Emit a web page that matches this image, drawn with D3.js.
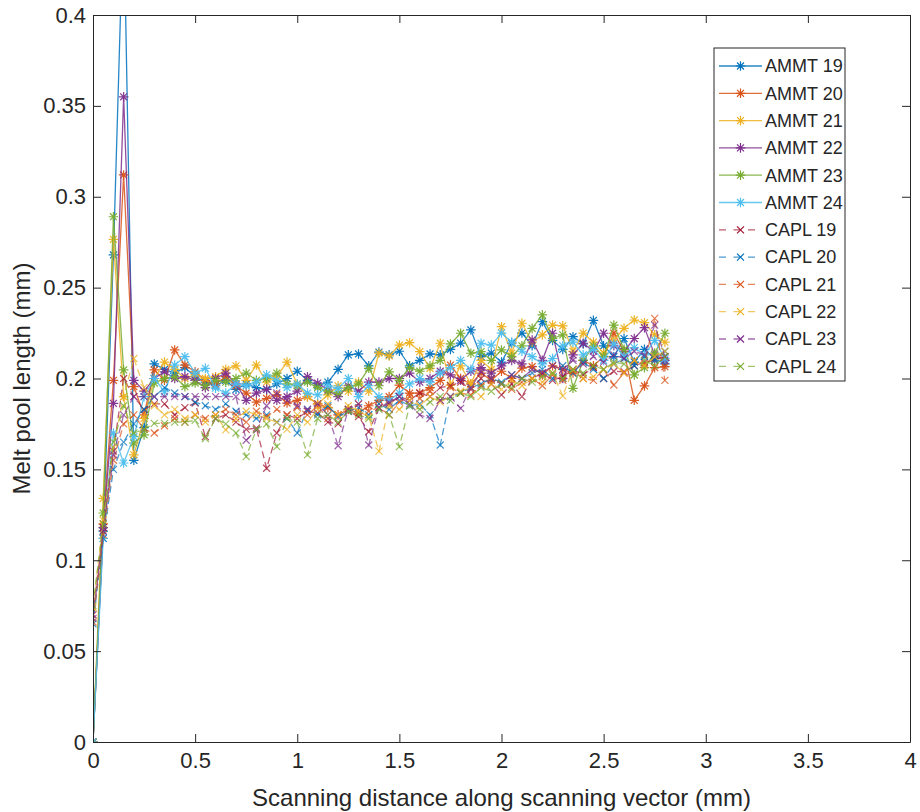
<!DOCTYPE html>
<html>
<head>
<meta charset="utf-8">
<script src="https://cdn.jsdelivr.net/npm/d3@7/dist/d3.min.js"></script>
<style>
  body { margin: 0; background: #fff; }
  text { font-family: "Liberation Sans", Arial, sans-serif; fill: #262626; }
</style>
</head>
<body>
<div id="chart"></div>
<script>
// scanning positions (mm)
const xValues = [0, 0.05, 0.1, 0.15, 0.2, 0.25, 0.3, 0.35, 0.4, 0.45, 0.5, 0.55, 0.6, 0.65, 0.7, 0.75, 0.8, 0.85, 0.9, 0.95,
  1.0, 1.05, 1.1, 1.15, 1.2, 1.25, 1.3, 1.35, 1.4, 1.45, 1.5, 1.55, 1.6, 1.65, 1.7, 1.75, 1.8, 1.85, 1.9, 1.95,
  2.0, 2.05, 2.1, 2.15, 2.2, 2.25, 2.3, 2.35, 2.4, 2.45, 2.5, 2.55, 2.6, 2.65, 2.7, 2.75, 2.8];

const ammt19 = [0, 0.116, 0.268, 0.46, 0.155, 0.173, 0.208, 0.205, 0.203, 0.206, 0.201, 0.198, 0.196, 0.199, 0.194, 0.197, 0.195, 0.194, 0.197, 0.2,
  0.204, 0.199, 0.196, 0.198, 0.205, 0.213, 0.2135, 0.207, 0.2145, 0.213, 0.215, 0.207, 0.21, 0.2135, 0.213, 0.216, 0.2195, 0.2267, 0.212, 0.214,
  0.209, 0.2195, 0.225, 0.218, 0.2313, 0.221, 0.216, 0.223, 0.219, 0.232, 0.218, 0.212, 0.222, 0.209, 0.216, 0.211, 0.208];
const ammt20 = [0, 0.12, 0.199, 0.312, 0.1955, 0.18, 0.2047, 0.199, 0.2157, 0.2074, 0.2037, 0.199, 0.197, 0.201, 0.196, 0.192, 0.187, 0.189, 0.191, 0.1865,
  0.188, 0.19, 0.186, 0.184, 0.18, 0.183, 0.181, 0.185, 0.188, 0.19, 0.1964, 0.192, 0.192, 0.195, 0.199, 0.2074, 0.2, 0.197, 0.203, 0.199,
  0.204, 0.2, 0.2057, 0.2065, 0.202, 0.207, 0.205, 0.203, 0.21, 0.207, 0.212, 0.2249, 0.215, 0.188, 0.1959, 0.206, 0.2065];
const ammt21 = [0, 0.134, 0.2766, 0.19, 0.158, 0.178, 0.2, 0.209, 0.205, 0.2, 0.202, 0.2, 0.201, 0.205, 0.207, 0.199, 0.2074, 0.198, 0.201, 0.209,
  0.197, 0.19, 0.186, 0.191, 0.196, 0.193, 0.198, 0.193, 0.214, 0.2124, 0.2184, 0.2197, 0.2148, 0.2056, 0.2194, 0.1964, 0.207, 0.197, 0.21, 0.205,
  0.2285, 0.214, 0.2304, 0.22, 0.224, 0.2294, 0.229, 0.215, 0.225, 0.22, 0.214, 0.221, 0.2276, 0.2322, 0.2307, 0.224, 0.22];
const ammt22 = [0, 0.118, 0.1863, 0.355, 0.199, 0.193, 0.2, 0.2037, 0.2, 0.201, 0.199, 0.195, 0.2, 0.203, 0.197, 0.188, 0.192, 0.194, 0.188, 0.19,
  0.193, 0.201, 0.1975, 0.1937, 0.19, 0.196, 0.193, 0.198, 0.198, 0.2, 0.2, 0.203, 0.198, 0.2, 0.204, 0.202, 0.199, 0.204, 0.206, 0.203,
  0.207, 0.21, 0.208, 0.2212, 0.21, 0.2249, 0.2, 0.213, 0.2194, 0.215, 0.2249, 0.218, 0.215, 0.222, 0.228, 0.213, 0.21];
const ammt23 = [0, 0.126, 0.289, 0.2047, 0.1645, 0.169, 0.1975, 0.2, 0.201, 0.1955, 0.1975, 0.196, 0.199, 0.198, 0.2, 0.203, 0.199, 0.2, 0.203, 0.197,
  0.196, 0.198, 0.195, 0.193, 0.192, 0.195, 0.197, 0.2056, 0.196, 0.2037, 0.199, 0.206, 0.204, 0.207, 0.21, 0.219, 0.2249, 0.2139, 0.2148, 0.21,
  0.2157, 0.212, 0.218, 0.2276, 0.235, 0.222, 0.224, 0.1946, 0.21, 0.218, 0.212, 0.2294, 0.216, 0.202, 0.206, 0.214, 0.2249];
const ammt24 = [0, 0.112, 0.17, 0.1535, 0.168, 0.19, 0.2, 0.1927, 0.2074, 0.212, 0.203, 0.2056, 0.1947, 0.192, 0.197, 0.196, 0.198, 0.202, 0.199, 0.195,
  0.197, 0.192, 0.191, 0.196, 0.1946, 0.2, 0.19, 0.196, 0.19, 0.188, 0.192, 0.197, 0.2, 0.198, 0.203, 0.206, 0.21, 0.205, 0.2194, 0.2184,
  0.225, 0.22, 0.215, 0.212, 0.208, 0.211, 0.218, 0.22, 0.213, 0.216, 0.21, 0.219, 0.212, 0.217, 0.213, 0.221, 0.211];
const capl19 = [0.07, 0.118, 0.16, 0.2, 0.19, 0.183, 0.186, 0.186, 0.18, 0.184, 0.1865, 0.168, 0.178, 0.18, 0.176, 0.172, 0.1727, 0.1506, 0.17, 0.18,
  0.178, 0.182, 0.181, 0.176, 0.175, 0.182, 0.179, 0.1707, 0.184, 0.186, 0.19, 0.188, 0.192, 0.19, 0.195, 0.196, 0.198, 0.194, 0.2, 0.197,
  0.191, 0.197, 0.19, 0.2, 0.203, 0.199, 0.201, 0.205, 0.202, 0.206, 0.2, 0.204, 0.2037, 0.207, 0.209, 0.21, 0.212];
const capl20 = [0.065, 0.112, 0.15, 0.165, 0.175, 0.183, 0.19, 0.195, 0.192, 0.19, 0.187, 0.185, 0.183, 0.186, 0.182, 0.18, 0.178, 0.18, 0.176, 0.178,
  0.17, 0.183, 0.18, 0.185, 0.179, 0.182, 0.184, 0.18, 0.186, 0.183, 0.188, 0.185, 0.186, 0.18, 0.1634, 0.19, 0.192, 0.195, 0.197, 0.2,
  0.198, 0.202, 0.2, 0.203, 0.205, 0.2, 0.207, 0.203, 0.209, 0.205, 0.2, 0.208, 0.211, 0.207, 0.212, 0.21, 0.215];
const capl21 = [0.066, 0.114, 0.155, 0.175, 0.18, 0.172, 0.17, 0.174, 0.178, 0.176, 0.18, 0.178, 0.18, 0.183, 0.18, 0.176, 0.182, 0.179, 0.183, 0.18,
  0.184, 0.18, 0.185, 0.178, 0.18, 0.183, 0.186, 0.182, 0.184, 0.18, 0.187, 0.19, 0.189, 0.193, 0.188, 0.195, 0.192, 0.191, 0.196, 0.2,
  0.197, 0.194, 0.198, 0.2, 0.196, 0.202, 0.199, 0.204, 0.2, 0.199, 0.205, 0.1964, 0.203, 0.21, 0.208, 0.2331, 0.199];
const capl22 = [0.074, 0.122, 0.162, 0.19, 0.211, 0.195, 0.185, 0.18, 0.183, 0.178, 0.18, 0.176, 0.18, 0.1717, 0.178, 0.182, 0.18, 0.178, 0.176, 0.172,
  0.18, 0.176, 0.183, 0.186, 0.18, 0.185, 0.182, 0.179, 0.16, 0.185, 0.183, 0.188, 0.185, 0.19, 0.187, 0.19, 0.193, 0.195, 0.19, 0.197,
  0.194, 0.199, 0.196, 0.2, 0.198, 0.203, 0.1904, 0.205, 0.2, 0.201, 0.205, 0.208, 0.203, 0.21, 0.207, 0.212, 0.215];
const capl23 = [0.068, 0.116, 0.158, 0.18, 0.19, 0.19, 0.19, 0.19, 0.19, 0.19, 0.19, 0.19, 0.19, 0.19, 0.19, 0.166, 0.1717, 0.185, 0.192, 0.188,
  0.185, 0.183, 0.186, 0.18, 0.163, 0.183, 0.186, 0.1634, 0.184, 0.187, 0.19, 0.186, 0.18, 0.178, 0.188, 0.19, 0.1836, 0.195, 0.2037, 0.2,
  0.197, 0.202, 0.2, 0.205, 0.203, 0.207, 0.205, 0.21, 0.208, 0.212, 0.209, 0.213, 0.211, 0.215, 0.213, 0.2294, 0.212];
const capl24 = [0.075, 0.12, 0.165, 0.185, 0.17, 0.172, 0.1753, 0.1753, 0.176, 0.176, 0.177, 0.167, 0.178, 0.175, 0.17, 0.157, 0.172, 0.175, 0.1625, 0.178,
  0.176, 0.158, 0.178, 0.18, 0.176, 0.182, 0.18, 0.178, 0.183, 0.18, 0.1625, 0.185, 0.183, 0.187, 0.19, 0.188, 0.192, 0.19, 0.195, 0.193,
  0.197, 0.195, 0.2, 0.198, 0.201, 0.203, 0.2, 0.205, 0.203, 0.207, 0.205, 0.209, 0.208, 0.202, 0.21, 0.207, 0.212];

const seriesNames = ['AMMT 19', 'AMMT 20', 'AMMT 21', 'AMMT 22', 'AMMT 23', 'AMMT 24',
  'CAPL 19', 'CAPL 20', 'CAPL 21', 'CAPL 22', 'CAPL 23', 'CAPL 24'];
const seriesValues = [ammt19, ammt20, ammt21, ammt22, ammt23, ammt24, capl19, capl20, capl21, capl22, capl23, capl24];

const xTickValues = [0, 0.5, 1, 1.5, 2, 2.5, 3, 3.5, 4];
const xTickLabels = ['0', '0.5', '1', '1.5', '2', '2.5', '3', '3.5', '4'];
const yTickValues = [0, 0.05, 0.1, 0.15, 0.2, 0.25, 0.3, 0.35, 0.4];
const yTickLabels = ['0', '0.05', '0.1', '0.15', '0.2', '0.25', '0.3', '0.35', '0.4'];

// matlab default colour order
const colors = ['#0072BD', '#D95319', '#EDB120', '#7E2F8E', '#77AC30', '#4DBEEE',
  '#A2142F', '#0072BD', '#D95319', '#EDB120', '#7E2F8E', '#77AC30'];

const W = 920, H = 812;
const margin = { top: 15, left: 93, right: 10, bottom: 70 };
const width = W - margin.left - margin.right;
const height = H - margin.top - margin.bottom;

const svg = d3.select('#chart').append('svg')
  .attr('width', W).attr('height', H);

const chart = svg.append('g')
  .attr('transform', `translate(${margin.left},${margin.top})`);

const xScale = d3.scaleLinear().domain([0, 4]).range([0, width]);
const yScale = d3.scaleLinear().domain([0, 0.4]).range([height, 0]);

svg.append('defs').append('clipPath').attr('id', 'plotclip')
  .append('rect').attr('x', 0).attr('y', 0).attr('width', width).attr('height', height);

// markers
const star = r => `M${-r},0L${r},0M0,${-r}L0,${r}M${-r * 0.72},${-r * 0.72}L${r * 0.72},${r * 0.72}M${-r * 0.72},${r * 0.72}L${r * 0.72},${-r * 0.72}`;
const cross = r => `M${-r},${-r}L${r},${r}M${-r},${r}L${r},${-r}`;

const line = d3.line().x(d => xScale(d[0])).y(d => yScale(d[1]));

const plotArea = chart.append('g').attr('clip-path', 'url(#plotclip)');

seriesValues.forEach((vals, i) => {
  const pts = vals.map((v, j) => [xValues[j], v]);
  const isCapl = i >= 6;
  const g = plotArea.append('g').classed('series', true);
  g.append('path')
    .datum(pts)
    .attr('d', line)
    .attr('fill', 'none')
    .attr('stroke', colors[i])
    .attr('stroke-width', 1.3)
    .attr('stroke-opacity', isCapl ? 0.7 : 0.85)
    .attr('stroke-dasharray', isCapl ? '7,4' : null);
  g.selectAll('.mk')
    .data(pts)
    .enter()
    .append('path')
    .classed('mk', true)
    .attr('transform', d => `translate(${xScale(d[0])},${yScale(d[1])})`)
    .attr('d', isCapl ? cross(3.5) : star(4.8))
    .attr('fill', 'none')
    .attr('stroke', colors[i])
    .attr('stroke-opacity', isCapl ? 0.75 : 0.95)
    .attr('stroke-width', 1.2);
});

// axes, ticks pointing inward, box on
const axisColor = '#262626';
const xAxis = d3.axisBottom(xScale).tickValues(xTickValues)
  .tickFormat((d, i) => xTickLabels[i]).tickSizeInner(-8).tickSizeOuter(0).tickPadding(10);
const yAxis = d3.axisLeft(yScale).tickValues(yTickValues)
  .tickFormat((d, i) => yTickLabels[i]).tickSizeInner(-8).tickSizeOuter(0).tickPadding(7);

const gx = chart.append('g').classed('x axis', true)
  .attr('transform', `translate(0,${height})`).call(xAxis);
const gy = chart.append('g').classed('y axis', true).call(yAxis);
chart.append('g').attr('transform', 'translate(0,0)')
  .call(d3.axisTop(xScale).tickValues(xTickValues).tickFormat('').tickSizeInner(-8).tickSizeOuter(0));
chart.append('g').attr('transform', `translate(${width},0)`)
  .call(d3.axisRight(yScale).tickValues(yTickValues).tickFormat('').tickSizeInner(-8).tickSizeOuter(0));

chart.selectAll('.domain').attr('stroke', axisColor).attr('stroke-width', 1);
chart.selectAll('.tick line').attr('stroke', axisColor).attr('stroke-width', 1);
chart.selectAll('.tick text').style('font-size', '22px').attr('fill', axisColor)
  .style('font-family', '"Liberation Sans", Arial, sans-serif');

gx.append('text')
  .attr('x', width / 2)
  .attr('y', 64)
  .attr('fill', axisColor)
  .style('font-size', '24px')
  .style('text-anchor', 'middle')
  .text('Scanning distance along scanning vector (mm)');

gy.append('text')
  .attr('transform', `translate(-63, ${height / 2}) rotate(-90)`)
  .attr('fill', axisColor)
  .style('font-size', '24px')
  .style('text-anchor', 'middle')
  .text('Melt pool length (mm)');

// legend
const legend = svg.append('g').attr('transform', 'translate(714,48)');
legend.append('rect')
  .attr('width', 131).attr('height', 333)
  .attr('fill', '#fff').attr('stroke', axisColor).attr('stroke-width', 1);

seriesNames.forEach((name, i) => {
  const isCapl = i >= 6;
  const y = 18 + i * 27.3;
  const row = legend.append('g').attr('transform', `translate(0,${y})`);
  row.append('line')
    .attr('x1', 5).attr('x2', 48).attr('y1', 0).attr('y2', 0)
    .attr('stroke', colors[i]).attr('stroke-width', 1.3)
    .attr('stroke-opacity', isCapl ? 0.7 : 0.85)
    .attr('stroke-dasharray', isCapl ? '7,7.5' : null);
  row.append('path')
    .attr('transform', 'translate(26.5,0)')
    .attr('d', isCapl ? cross(3.5) : star(4.8))
    .attr('fill', 'none').attr('stroke', colors[i]).attr('stroke-width', 1.2);
  row.append('text')
    .attr('x', 51).attr('y', 0).attr('dy', '0.35em')
    .style('font-size', '18px')
    .text(name);
});
</script>
</body>
</html>
